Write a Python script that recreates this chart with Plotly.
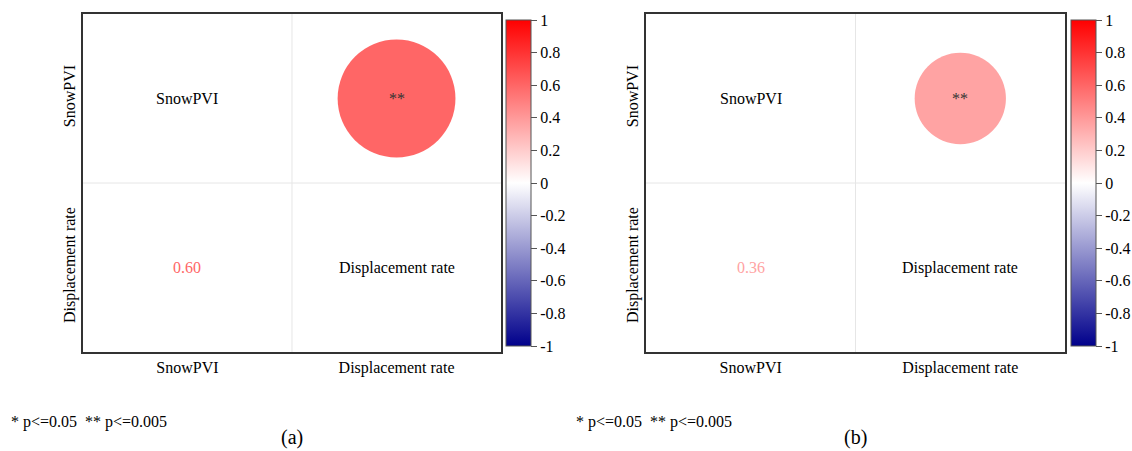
import plotly.graph_objects as go
from plotly.colors import sample_colorscale

# ---------------- data ----------------
variables = ["SnowPVI", "Displacement rate"]
panel_labels = ["(a)", "(b)"]
corr_values = [0.60, 0.36]          # correlation SnowPVI vs Displacement rate
signif_marks = ["**", "**"]
footnote = "* p<=0.05\u00a0\u00a0** p<=0.005"
cbar_tickvals = [1, 0.8, 0.6, 0.4, 0.2, 0, -0.2, -0.4, -0.6, -0.8, -1]
cbar_ticktext = ["1", "0.8", "0.6", "0.4", "0.2", "0", "-0.2", "-0.4", "-0.6", "-0.8", "-1"]

# ---------------- layout constants (pixels) ----------------
W, H = 1132, 451
panel_x = [(83, 502), (647, 1067)]
frame_top, frame_bottom = 14, 352
cbar_left = [507, 1073]
cbar_top, cbar_bottom = 20, 346
FONT = "Liberation Serif"

colorscale = [[0, "rgb(0,0,139)"], [0.5, "rgb(255,255,255)"], [1, "rgb(255,0,0)"]]

cell_h = (frame_bottom - frame_top) / 2

fig = go.Figure()
annotations = []
shapes = []

for i, r in enumerate(corr_values):
    sfx = "" if i == 0 else str(i + 1)
    xref, yref = "x" + sfx, "y" + sfx
    x0, x1 = panel_x[i]

    fig.add_trace(go.Scatter(
        x=[variables[1]], y=[variables[0]],
        xaxis=xref, yaxis=yref,
        mode="markers",
        marker=dict(
            size=0.9 * cell_h * abs(r) ** 0.5,
            sizemode="diameter",
            color=[r], colorscale=colorscale, cmin=-1, cmax=1,
            line=dict(width=0), opacity=1,
            showscale=True,
            colorbar=dict(
                x=cbar_left[i] / W, xanchor="left", xpad=0,
                y=1 - cbar_top / H, yanchor="top", ypad=0,
                len=(cbar_bottom - cbar_top) / H, lenmode="fraction",
                thickness=25, thicknessmode="pixels",
                outlinecolor="#555555", outlinewidth=1,
                ticks="outside", ticklen=6, tickcolor="#555555", tickwidth=1,
                tickvals=cbar_tickvals, ticktext=cbar_ticktext,
                tickfont=dict(family=FONT, size=16, color="black"),
            ),
        ),
        hoverinfo="skip", showlegend=False,
    ))

    axis_common = dict(
        type="category", categoryorder="array", categoryarray=variables,
        range=[-0.5, 1.5], showgrid=False, zeroline=False,
        showline=True, mirror=True, linecolor="#333333", linewidth=1.5,
        ticks="", tickfont=dict(family=FONT, size=16, color="black"),
        fixedrange=True,
    )
    fig.layout["xaxis" + sfx] = go.layout.XAxis(
        **axis_common, domain=[x0 / W, x1 / W], anchor=yref, tickangle=0,
    )
    ycommon = dict(axis_common)
    ycommon["range"] = [1.5, -0.5]
    fig.layout["yaxis" + sfx] = go.layout.YAxis(
        **ycommon, domain=[1 - frame_bottom / H, 1 - frame_top / H], anchor=xref,
        tickangle=-90,
    )

    # light grid lines separating the cells
    shapes.append(dict(type="line", xref=xref, yref=yref, x0=0.5, x1=0.5, y0=-0.5, y1=1.5,
                       line=dict(color="#e6e6e6", width=1), layer="below"))
    shapes.append(dict(type="line", xref=xref, yref=yref, x0=-0.5, x1=1.5, y0=0.5, y1=0.5,
                       line=dict(color="#e6e6e6", width=1), layer="below"))

    # diagonal labels
    for k, v in enumerate(variables):
        annotations.append(dict(x=v, y=v, xref=xref, yref=yref, text=v, showarrow=False,
                                font=dict(family=FONT, size=16, color="black")))
    # lower triangle: value text coloured by the colour scale
    col = sample_colorscale(colorscale, [(r + 1) / 2])[0]
    annotations.append(dict(x=variables[0], y=variables[1], xref=xref, yref=yref,
                            text=f"{r:.2f}", showarrow=False,
                            font=dict(family=FONT, size=16, color=col)))
    # significance mark on circle
    annotations.append(dict(x=variables[1], y=variables[0], xref=xref, yref=yref,
                            text=signif_marks[i], showarrow=False, yshift=0,
                            font=dict(family=FONT, size=16, color="#333333")))
    # footnote and panel label
    annotations.append(dict(x=(9 if i == 0 else 575) / W, y=1 - 422 / H, xref="paper", yref="paper",
                            xanchor="left", yanchor="middle", text=footnote, showarrow=False,
                            font=dict(family=FONT, size=16, color="black")))
    annotations.append(dict(x=(x0 + x1) / 2 / W, y=0, xref="paper", yref="paper",
                            xanchor="center", yanchor="bottom", text=panel_labels[i], showarrow=False,
                            font=dict(family=FONT, size=20, color="black")))

fig.update_layout(
    width=W, height=H, autosize=False,
    margin=dict(l=0, r=0, t=0, b=0),
    paper_bgcolor="white", plot_bgcolor="white",
    font=dict(family=FONT),
    annotations=annotations, shapes=shapes,
    showlegend=False,
)

fig.write_html("out.html")
